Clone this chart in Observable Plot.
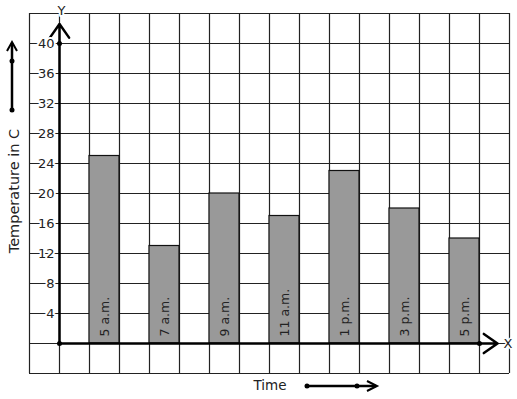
<!DOCTYPE html>
<html><head><meta charset="utf-8">
<script src="https://cdn.jsdelivr.net/npm/d3@7"></script>
<script src="https://cdn.jsdelivr.net/npm/@observablehq/plot@0.6"></script>
<style>body{margin:0;background:#fff} svg{display:block}</style>
</head><body><div id="chart"></div>
<script>
const times = ["5 a.m.", "7 a.m.", "9 a.m.", "11 a.m.", "1 p.m.", "3 p.m.", "5 p.m."];
const temps = [25, 13, 20, 17, 23, 18, 14];
const yTicks = [4, 8, 12, 16, 20, 24, 28, 32, 36, 40];
const yTitle = "Temperature in C";
const xTitle = "Time";

const data = times.map((t, i) => ({time: t, temp: temps[i], x1: 1 + 2 * i, x2: 2 + 2 * i}));
const gridX = d3.range(-1, 16, 1);
const gridY = d3.range(-4, 45, 4);
const ink = "#222";
const font = "DejaVu Sans, sans-serif";

const plot = Plot.plot({
  width: 517, height: 399,
  marginLeft: 29, marginRight: 8, marginTop: 13, marginBottom: 26,
  x: {type: "linear", domain: [-1, 15], range: [29, 509], axis: null},
  y: {type: "linear", domain: [-4, 44], range: [373, 13], axis: null},
  style: {fontFamily: font, fontSize: "12px", background: "#fff"},
  marks: [
    Plot.ruleX(gridX, {x: d => d, y1: -4, y2: 44, stroke: ink, strokeWidth: 1.2}),
    Plot.ruleY(gridY, {y: d => d, x1: -1, x2: 15, stroke: ink, strokeWidth: 1.2}),
    Plot.rectY(data, {x1: "x1", x2: "x2", y1: 0, y2: "temp", fill: "#999", stroke: "#111", strokeWidth: 1.2, inset: 0}),
    Plot.text(data, {x: d => (d.x1 + d.x2) / 2, y: 0, text: "time", rotate: -90, textAnchor: "start", dy: -7, fill: ink, fontSize: 12.5, lineAnchor: "middle"}),
    Plot.arrow([{a: 0}], {x1: 0, y1: 0, x2: 0, y2: 42.6, stroke: "#000", strokeWidth: 2.5, headLength: 10, headAngle: 70}),
    Plot.arrow([{a: 0}], {x1: 0, y1: 0, x2: 14.6, y2: 0, stroke: "#000", strokeWidth: 2.5, headLength: 10, headAngle: 70}),
    Plot.dot([[0, 0], [0, 40], [14, 0]], {x: d => d[0], y: d => d[1], r: 2.5, fill: "#000"}),
    Plot.text(yTicks, {x: 0, y: d => d, text: d => String(d), textAnchor: "end", dx: -5, fill: ink, fontSize: 13, stroke: "#fff", strokeWidth: 4}),
    Plot.text(["Y"], {x: 0, y: 44, text: d => d, dx: 2, dy: -3, fill: ink, fontSize: 13, stroke: "#fff", strokeWidth: 4}),
    Plot.text(["X"], {x: 15, y: 0, text: d => d, dx: -1.5, fill: ink, fontSize: 13, stroke: "#fff", strokeWidth: 3})
  ]
});
document.getElementById("chart").appendChild(plot);

const svg = d3.select(plot);
// axis titles
svg.append("text").attr("transform", "translate(19,191) rotate(-90)").attr("text-anchor", "middle")
  .attr("font-family", font).attr("font-size", 14.5).attr("fill", ink).text(yTitle);
svg.append("text").attr("x", 270).attr("y", 390).attr("text-anchor", "middle")
  .attr("font-family", font).attr("font-size", 13.5).attr("fill", ink).text(xTitle);
// decorative arrows beside titles
const g = svg.append("g").attr("stroke", "#000").attr("fill", "none").attr("stroke-width", 2.5);
g.append("line").attr("x1", 12).attr("y1", 110).attr("x2", 12).attr("y2", 43);
g.append("path").attr("d", "M7,51 L12,42 L17,51").attr("stroke-width", 2);
g.append("line").attr("x1", 307).attr("y1", 386).attr("x2", 376).attr("y2", 386);
g.append("path").attr("d", "M367,381 L377,386 L367,391").attr("stroke-width", 2);
[[12, 110], [12, 61], [307, 386], [357, 386]].forEach(([cx, cy]) =>
  svg.append("circle").attr("cx", cx).attr("cy", cy).attr("r", 2.5).attr("fill", "#000"));
</script>
</body></html>
